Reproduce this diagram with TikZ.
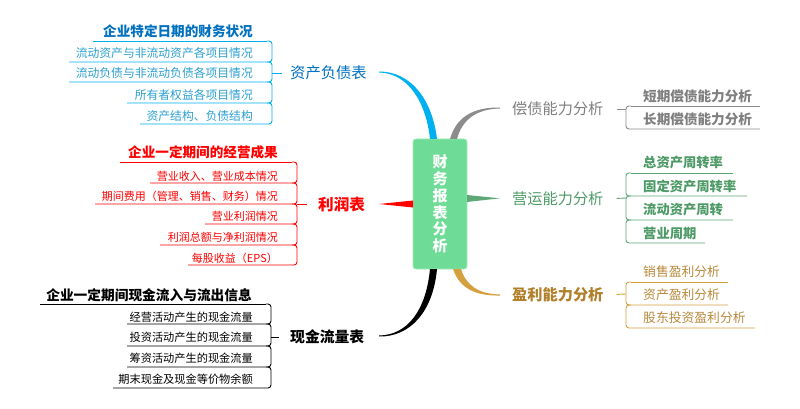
\documentclass[tikz,border=0pt]{standalone}
\usepackage{fontspec}
\newfontfamily\cjk{Noto Sans CJK SC}
\definecolor{bline}{HTML}{00B0F0}
\definecolor{btext}{HTML}{0070C0}
\definecolor{bitem}{HTML}{2A9FD0}
\definecolor{rline}{HTML}{FF0000}
\definecolor{gline}{HTML}{8C8C8C}
\definecolor{gtext}{HTML}{7F7F7F}
\definecolor{nline}{HTML}{5EA878}
\definecolor{ntext}{HTML}{4E9A66}
\definecolor{oline}{HTML}{D4A040}
\definecolor{otext}{HTML}{B07F2A}
\definecolor{oitem}{HTML}{B8883A}
\definecolor{cfill}{HTML}{6EDC96}
\definecolor{cdraw}{HTML}{9BE8B6}
\newcommand{\fs}[1]{\fontsize{#1}{#1}\selectfont}
\begin{document}
\begin{tikzpicture}[x=1pt,y=-1pt,
  lbl/.style={inner sep=0pt,font=\cjk},
  lft/.style={lbl,anchor=east},
  rgt/.style={lbl,anchor=west},
  br/.style={line width=0.9pt,rounded corners=3pt},
  centerbox/.style={rectangle,rounded corners=3pt,fill=cfill,draw=cdraw,line width=0.8pt,
     minimum width=54pt,minimum height=130pt,inner sep=0pt,text=white,align=center,
     font=\cjk\bfseries\fontsize{15}{16.8}\selectfont}]
\useasboundingbox (0,0) rectangle (800,409);

% ---------- centre ----------
\node[centerbox] (c) at (440,204) {财\\务\\报\\表\\分\\析};

% ---------- tapered connectors ----------
\fill[bline] (379,71.5) .. controls (410,71.5) and (432,98) .. (437,139)
  -- (430,139) .. controls (426,102) and (408,73) .. (379,72.5) -- cycle;
\fill[gline] (500,107.5) .. controls (472,107) and (456,118) .. (450,139)
  -- (457,139) .. controls (462,120) and (476,109) .. (500,108.5) -- cycle;
\fill[rline] (379,204) -- (413,200.5) -- (413,207.5) -- cycle;
\fill[nline] (467,195) -- (500,198.3) -- (467,202) -- cycle;
\fill[black] (379,335.5) .. controls (408,335) and (426,310) .. (430,269)
  -- (437,269) .. controls (433,312) and (410,337) .. (379,336.5) -- cycle;
\fill[oline] (500,294.5) .. controls (478,294) and (466,285) .. (461,269)
  -- (453,269) .. controls (460,290) and (478,296) .. (500,295.5) -- cycle;

% ---------- 资产负债表 ----------
\node[rgt,text=btext,font=\cjk\fs{15.3}] (bs) at (290,73) {资产负债表};
\node[lft,text=btext,font=\cjk\bfseries\fs{13.6}] (bs0) at (253,31) {企业特定日期的财务状况};
\node[lft,text=bitem,font=\cjk\fs{11.8}] (bs1) at (253,53) {流动资产与非流动资产各项目情况};
\node[lft,text=bitem,font=\cjk\fs{11.8}] (bs2) at (253,73) {流动负债与非流动负债各项目情况};
\node[lft,text=bitem,font=\cjk\fs{11.8}] (bs3) at (253,95) {所有者权益各项目情况};
\node[lft,text=bitem,font=\cjk\fs{11.8}] (bs4) at (253,116) {资产结构、负债结构};
\begin{scope}[draw=bline]
\draw[br] (93,41) -- (267,41);
\draw[br] (69,62) -- (272,62) -- (272,41) -- (267,41);
\draw[br] (69,82) -- (272,82) -- (272,62) -- (267,62);
\draw[br] (127,103) -- (272,103) -- (272,82) -- (267,82);
\draw[br] (140,124) -- (272,124) -- (272,103) -- (267,103);
\draw[line width=0.9pt] (272,73) -- (bs.west) [shorten >=8pt];
\end{scope}

% ---------- 利润表 ----------
\node[rgt,text=rline,font=\cjk\bfseries\fs{15.6}] (is) at (318,205) {利润表};
\node[lft,text=rline,font=\cjk\bfseries\fs{13.6}] (is0) at (278,152) {企业一定期间的经营成果};
\node[lft,text=rline,font=\cjk\fs{11}] (is1) at (278,176) {营业收入、营业成本情况};
\node[lft,text=rline,font=\cjk\fs{11}] (is2) at (278,196) {期间费用（管理、销售、财务）情况};
\node[lft,text=rline,font=\cjk\fs{11}] (is3) at (278,216) {营业利润情况};
\node[lft,text=rline,font=\cjk\fs{11}] (is4) at (278,237) {利润总额与净利润情况};
\node[lft,text=rline,font=\cjk\fs{11}] (is5) at (278,258) {每股收益（EPS）};
\begin{scope}[draw=rline]
\draw[br] (120,162) -- (292,162);
\draw[br] (150,183) -- (297,183) -- (297,162) -- (292,162);
\draw[br] (95,204) -- (297,204) -- (297,183) -- (292,183);
\draw[br] (205,224) -- (297,224) -- (297,204) -- (292,204);
\draw[br] (160,245) -- (297,245) -- (297,224) -- (292,224);
\draw[br] (188,265) -- (297,265) -- (297,245) -- (292,245);
\draw[line width=0.9pt] (297,204) -- (307,204);
\end{scope}

% ---------- 现金流量表 ----------
\node[rgt,text=black,font=\cjk\bfseries\fs{14.8}] (cf) at (290,337) {现金流量表};
\node[lft,text=black,font=\cjk\bfseries\fs{13.7}] (cf0) at (252,295) {企业一定期间现金流入与流出信息};
\node[lft,text=black,font=\cjk\fs{11.2}] (cf1) at (253,317) {经营活动产生的现金流量};
\node[lft,text=black,font=\cjk\fs{11.2}] (cf2) at (253,337) {投资活动产生的现金流量};
\node[lft,text=black,font=\cjk\fs{11.2}] (cf3) at (253,358) {筹资活动产生的现金流量};
\node[lft,text=black,font=\cjk\fs{11.2}] (cf4) at (253,379) {期末现金及现金等价物余额};
\begin{scope}[draw=black]
\draw[br] (40,304) -- (266,304);
\draw[br] (127,324) -- (271,324) -- (271,304) -- (266,304);
\draw[br] (127,346) -- (271,346) -- (271,324) -- (266,324);
\draw[br] (127,367) -- (271,367) -- (271,346) -- (266,346);
\draw[br] (113,388) -- (271,388) -- (271,367) -- (266,367);
\draw[line width=0.9pt] (271,337) -- (cf.west) [shorten >=11pt];
\end{scope}

% ---------- 偿债能力分析 ----------
\node[rgt,text=gtext,font=\cjk\fs{15.2}] (sd) at (512,109) {偿债能力分析};
\node[rgt,text=gtext,font=\cjk\bfseries\fs{13.6}] (sd1) at (643,96) {短期偿债能力分析};
\node[rgt,text=gtext,font=\cjk\bfseries\fs{13.6}] (sd2) at (643,119) {长期偿债能力分析};
\begin{scope}[draw=gline]
\draw[br] (631,106) -- (760,106);
\draw[br] (760,129) -- (626,129) -- (626,106) -- (631,106);
\draw[line width=0.9pt] (sd.east) [shorten <=13pt] -- (626,109);
\end{scope}

% ---------- 营运能力分析 ----------
\node[rgt,text=ntext,font=\cjk\fs{15.2}] (op) at (512,199) {营运能力分析};
\node[rgt,text=ntext,font=\cjk\bfseries\fs{13.3}] (op1) at (643,163) {总资产周转率};
\node[rgt,text=ntext,font=\cjk\bfseries\fs{13.3}] (op2) at (643,186) {固定资产周转率};
\node[rgt,text=ntext,font=\cjk\bfseries\fs{13.3}] (op3) at (643,210) {流动资产周转};
\node[rgt,text=ntext,font=\cjk\bfseries\fs{13.3}] (op4) at (643,233) {营业周期};
\begin{scope}[draw=nline]
\draw[br] (631,173) -- (733,173);
\draw[br] (747,196) -- (626,196) -- (626,173) -- (631,173);
\draw[br] (733,220) -- (626,220) -- (626,196) -- (631,196);
\draw[br] (705,243) -- (626,243) -- (626,220) -- (631,220);
\draw[line width=0.9pt] (op.east) [shorten <=13pt] -- (626,198);
\end{scope}

% ---------- 盈利能力分析 ----------
\node[rgt,text=otext,font=\cjk\bfseries\fs{15.2}] (pf) at (512,295) {盈利能力分析};
\node[rgt,text=oitem,font=\cjk\fs{12.8}] (pf1) at (643,272) {销售盈利分析};
\node[rgt,text=oitem,font=\cjk\fs{12.8}] (pf2) at (643,295) {资产盈利分析};
\node[rgt,text=oitem,font=\cjk\fs{12.8}] (pf3) at (643,318) {股东投资盈利分析};
\begin{scope}[draw=oline]
\draw[br] (631,282) -- (728,282);
\draw[br] (728,305) -- (626,305) -- (626,282) -- (631,282);
\draw[br] (755,328) -- (626,328) -- (626,305) -- (631,305);
\draw[line width=0.9pt] (pf.east) [shorten <=13pt] -- (626,294);
\end{scope}
\end{tikzpicture}
\end{document}
